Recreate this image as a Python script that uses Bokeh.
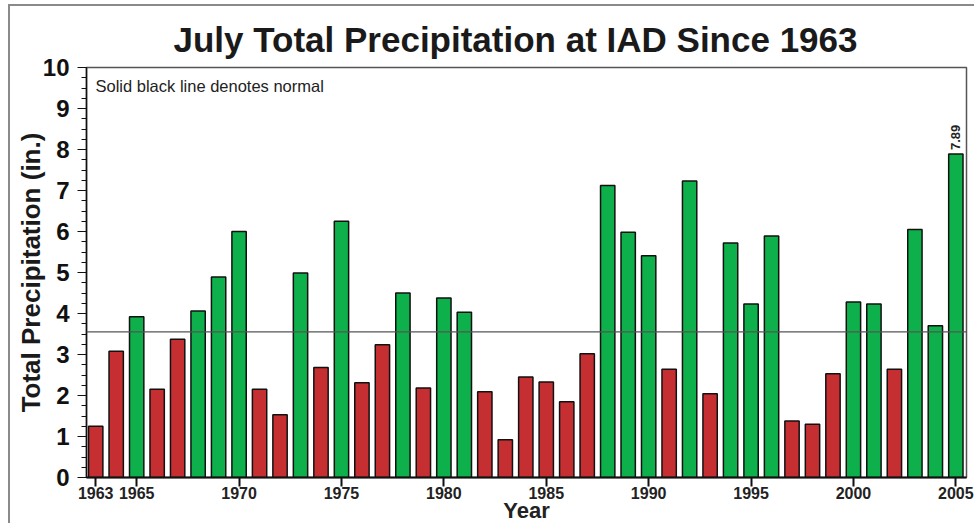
from bokeh.plotting import figure
from bokeh.models import Range1d, FixedTicker, Span, Label, ColumnDataSource
from bokeh.embed import file_html
from bokeh.resources import INLINE

# ---- data ----
years = list(range(1963, 2006))
precip = [1.25, 3.08, 3.92, 2.15, 3.37, 4.06, 4.89, 6.00, 2.15, 1.53,
          4.99, 2.68, 6.25, 2.31, 3.24, 4.50, 2.18, 4.38, 4.03, 2.09,
          0.92, 2.45, 2.33, 1.85, 3.02, 7.12, 5.98, 5.41, 2.64, 7.23,
          2.04, 5.72, 4.23, 5.89, 1.38, 1.30, 2.53, 4.28, 4.23, 2.64,
          6.05, 3.70, 7.89]
normal = 3.55
x_ticks = [1963, 1965, 1970, 1975, 1980, 1985, 1990, 1995, 2000, 2005]
y_ticks = list(range(0, 11))

GREEN = "#0DB04B"
RED = "#C62F32"
colors = [GREEN if v > normal else RED for v in precip]

src = ColumnDataSource(data=dict(year=years, precip=precip, color=colors))

FONT = "Liberation Sans"

p = figure(width=966, height=519, output_backend="svg", toolbar_location=None,
           x_range=Range1d(1962.55, 2005.52), y_range=Range1d(0, 10),
           min_border_left=76, min_border_right=10, min_border_top=61,
           min_border_bottom=48)

p.vbar(x="year", top="precip", width=0.7, bottom=0, fill_color="color",
       line_color="#111111", line_width=1.5, source=src)

p.add_layout(Span(location=normal, dimension="width", line_color="#555555",
                  line_width=1.2))

p.title.text = "July Total Precipitation at IAD Since 1963"
p.title.text_font = FONT
p.title.text_font_size = "35px"
p.title.text_font_style = "bold"
p.title.text_color = "#1a1a1a"
p.title.align = "left"
p.title.offset = 87
p.title.standoff = 17

p.xgrid.visible = False
p.ygrid.visible = False
p.outline_line_color = "#555555"
p.outline_line_width = 1.5

xa = p.xaxis[0]
xa.ticker = FixedTicker(ticks=x_ticks)
xa.major_tick_out = 9
xa.major_tick_in = 0
xa.minor_tick_out = 0
xa.minor_tick_in = 0
xa.axis_line_color = "#111111"
xa.axis_line_width = 2
xa.major_tick_line_color = "#111111"
xa.major_tick_line_width = 2
xa.major_label_text_font = FONT
xa.major_label_text_font_size = "16px"
xa.major_label_text_font_style = "bold"
xa.major_label_text_color = "#222222"
xa.major_label_standoff = 0
xa.axis_label = "Year"
xa.axis_label_text_font = FONT
xa.axis_label_text_font_size = "22px"
xa.axis_label_text_font_style = "bold"
xa.axis_label_text_color = "#222222"
xa.axis_label_standoff = -4

ya = p.yaxis[0]
ya.ticker = FixedTicker(ticks=y_ticks,
                        minor_ticks=[i * 0.25 for i in range(41)])
ya.major_tick_out = 9
ya.major_tick_in = 0
ya.minor_tick_out = 5
ya.minor_tick_in = 0
ya.axis_line_color = "#111111"
ya.axis_line_width = 1.5
ya.major_tick_line_color = "#111111"
ya.minor_tick_line_color = "#111111"
ya.major_label_text_font = FONT
ya.major_label_text_font_size = "24px"
ya.major_label_text_font_style = "bold"
ya.major_label_text_color = "#111111"
ya.major_label_standoff = 8
ya.axis_label = "Total Precipitation (in.)"
ya.axis_label_text_font = FONT
ya.axis_label_text_font_size = "26px"
ya.axis_label_text_font_style = "bold"
ya.axis_label_text_color = "#1a1a1a"
ya.axis_label_standoff = -6

p.add_layout(Label(x=9, y=401, x_units="screen", y_units="screen",
                   text="Solid black line denotes normal", text_font=FONT,
                   text_font_size="16.5px", text_color="#222222",
                   text_baseline="top", text_align="left"))

p.add_layout(Label(x=years[-1], y=precip[-1], y_offset=4,
                   text=f"{precip[-1]:.2f}", angle=1.5708,
                   text_font=FONT, text_font_size="13px",
                   text_font_style="bold", text_color="#222222",
                   text_align="left", text_baseline="middle"))

p.styles = {"margin-left": "10px", "margin-top": "6px",
            "box-shadow": "-2px -2px 0 0 #8a8a8a"}

open("out.html", "w").write(file_html(p, INLINE))
